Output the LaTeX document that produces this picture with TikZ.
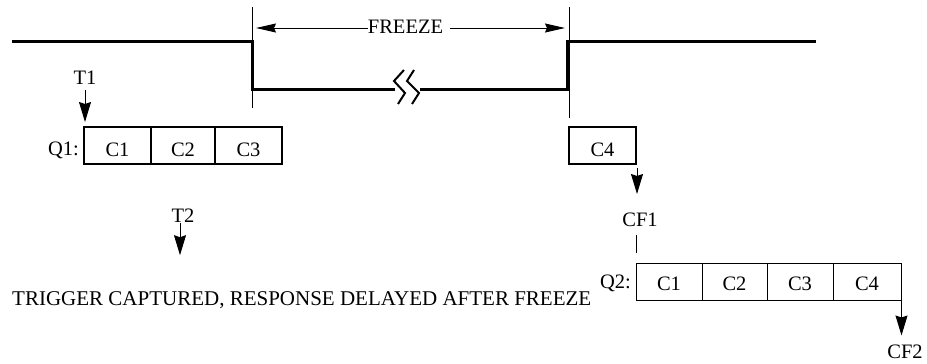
\documentclass[tikz,border=0pt]{standalone}
\usepackage{fontspec}
\setmainfont{Liberation Serif}
\usetikzlibrary{arrows.meta,calc}
\begin{document}
\begin{tikzpicture}[x=1pt,y=-1pt,
  wave/.style={line width=3pt},
  thinline/.style={line width=1pt},
  zig/.style={line width=2pt},
  bigarrow/.style={line width=1pt,-{Stealth[length=20pt,width=12pt,inset=2pt]}},
  frarrow/.style={line width=1pt,-{Stealth[length=20pt,width=9pt,inset=2pt]}},
  lbl/.style={font=\fontsize{20.5}{24}\selectfont,inner sep=0pt},
  cellA/.style={draw,line width=2pt,minimum height=37pt,inner sep=0pt,lbl,text height=22pt,text depth=0pt},
  cellB/.style={draw,line width=1pt,minimum height=37pt,inner sep=0pt,lbl,text height=18pt,text depth=0pt}]
\useasboundingbox (0,0) rectangle (927,364);

% waveform
\draw[wave] (12,41) -- (252,41) -- (252,89) -- (395,89);
\draw[wave] (420,89) -- (567,89) -- (567,41) -- (816,41);
\draw[zig] (404,70) -- (394,81) -- (405,93) -- (398,104);
\draw[zig] (414,70) -- (407,81) -- (419,93) -- (412,104);
\draw[thinline] (252,7) -- (252,108);
\draw[thinline] (569,7) -- (569,118);

% freeze
\coordinate (fl) at (256,28);
\coordinate (fr) at (565,28);
\node[lbl,anchor=base] (fz) at (405.5,33) {FREEZE};
\draw[frarrow] (fz.west |- fl) -- (fl);
\draw[frarrow] ($(fz.east |- fr)+(7,0)$) -- (fr);

% Q1
\node[lbl,anchor=base east] (q1) at (79,155) {Q1:};
\node[cellA,minimum width=67pt] (q1a) at (117.5,145.5) {C1};
\node[cellA,minimum width=64pt] (q1b) at (183,145.5) {C2};
\node[cellA,minimum width=67pt] (q1c) at (248.5,145.5) {C3};
\node[cellA,minimum width=67pt] (c4) at (602.5,145.5) {C4};

% T1
\node[lbl,anchor=base] (t1) at (85,84) {T1};
\coordinate (t1tip) at (85,122);
\draw[bigarrow,shorten <=6pt] (t1.south) -- (t1tip);

% T2
\node[lbl,anchor=base] (t2) at (183,222) {T2};
\draw[bigarrow] ($(t2.south)+(-3,1)$) -- ++(0,32);

% CF1
\draw[bigarrow] ($(c4.south east)+(0,3)$) -- ++(0,26);
\node[lbl,anchor=base] (cf1) at (640,226) {CF1};
\draw[thinline] ($(cf1.south)+(-4,9)$) -- ++(0,18);

% Q2
\node[lbl,anchor=base east] (q2) at (631,288) {Q2:};
\node[cellB,minimum width=66pt] (q2a) at (669,281.5) {C1};
\node[cellB,minimum width=65pt] (q2b) at (734.5,281.5) {C2};
\node[cellB,minimum width=66pt] (q2c) at (800,281.5) {C3};
\node[cellB,minimum width=68pt] (q2d) at (867,281.5) {C4};
\draw[bigarrow] (q2d.south east) -- ++(0,35);
\node[lbl,anchor=base] (cf2) at (905,358) {CF2};

% caption
\node[lbl,anchor=base west,font=\fontsize{21}{24}\selectfont] (cap) at (12,305) {TRIGGER CAPTURED, RESPONSE DELAYED AFTER FREEZE};
\end{tikzpicture}
\end{document}
